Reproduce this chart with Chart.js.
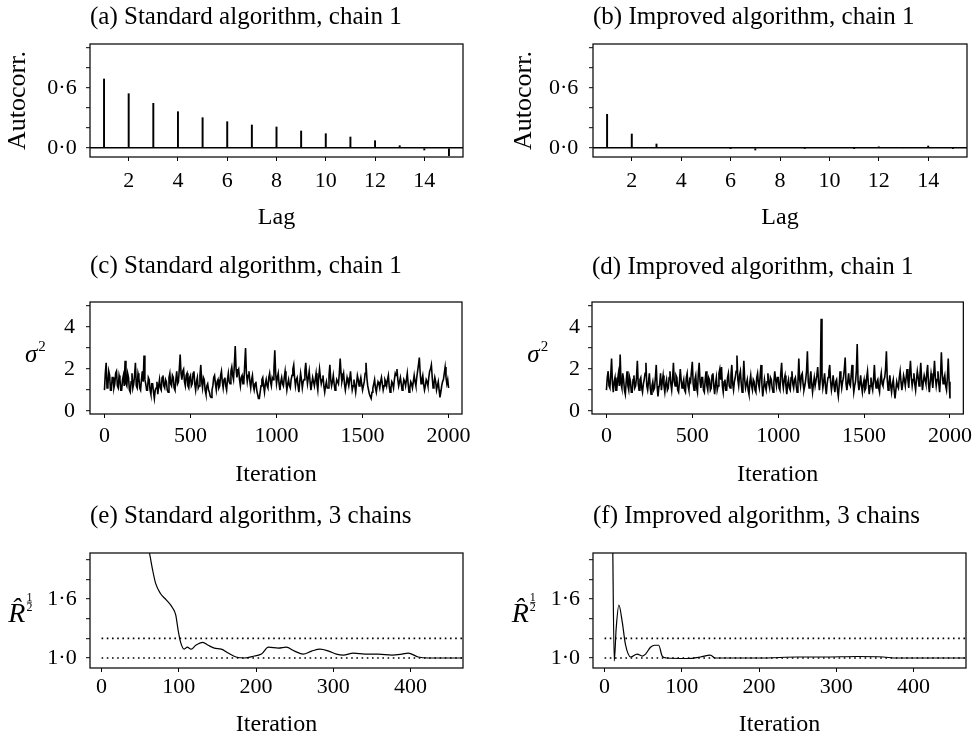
<!DOCTYPE html>
<html><head><meta charset="utf-8">
<script src="https://cdn.jsdelivr.net/npm/chart.js@4.4.1/dist/chart.umd.min.js"></script>
<style>
html,body{margin:0;padding:0;background:#fff;}
body{width:977px;height:739px;position:relative;overflow:hidden;}
canvas{position:absolute;}
</style></head><body>
<canvas id="ca"></canvas><canvas id="cb"></canvas>
<canvas id="cc"></canvas><canvas id="cd"></canvas>
<canvas id="ce"></canvas><canvas id="cf"></canvas>
<script>
// ---------------- DATA ----------------
const LAGS = [1,2,3,4,5,6,7,8,9,10,11,12,13,14,15];
const acfStandard = [0.69,0.543,0.447,0.363,0.303,0.263,0.23,0.21,0.17,0.143,0.11,0.073,0.023,-0.02,-0.077];
const acfImproved = [0.337,0.14,0.04,0.003,0.005,-0.004,-0.02,0.004,-0.005,0.003,-0.003,0.012,0.002,0.02,-0.005];
const lagTicks = [2,4,6,8,10,12,14];
const acfTicks = [0,0.2,0.4,0.6,0.8,1.0];
const acfTickLabels = [0,0.6];

const ITER_STEP = 5;
const sigmaStandard = [
1.0,1.8,2.3,1.1,1.2,1.9,1.7,1.0,1.0,1.6,1.6,1.1,1.3,1.8,1.9,1.2,1.1,1.7,1.5,1.0,
1.0,1.5,1.7,1.2,2.4,1.3,1.2,1.8,1.6,1.0,0.9,1.4,1.8,1.1,1.3,1.7,2.3,1.2,1.1,1.8,
1.6,1.1,1.0,1.5,1.9,1.4,2.65,1.5,1.3,1.0,1.0,1.6,1.5,1.0,0.8,1.3,1.3,0.9,0.6,1.0,
1.1,1.4,0.8,1.2,1.5,1.1,1.0,1.6,1.7,1.2,1.1,1.5,1.4,1.0,0.9,1.6,1.8,1.3,1.2,1.7,
1.6,1.1,1.0,1.5,1.9,1.3,1.4,2.0,2.7,1.8,1.5,1.9,2.0,1.4,1.2,1.7,1.8,1.2,1.1,1.6,
1.7,1.2,1.3,1.8,1.9,1.3,1.0,1.4,1.6,1.1,1.2,1.7,2.2,1.4,1.1,1.6,1.5,1.0,0.8,1.2,
1.3,1.0,0.9,0.7,0.65,1.0,1.2,1.6,1.7,1.3,1.0,1.4,1.5,1.1,1.2,1.7,1.9,1.4,1.1,1.5,
1.6,1.2,1.0,1.5,1.8,1.4,1.3,1.9,2.1,1.7,1.5,2.2,3.1,2.0,1.6,1.9,2.0,1.5,1.2,1.6,
1.7,1.3,1.3,2.2,3.0,1.8,1.4,1.7,1.9,1.4,1.1,1.5,1.7,1.2,1.0,1.3,1.4,1.0,0.8,0.6,
0.6,0.9,1.2,1.5,1.6,1.2,0.9,1.3,1.5,1.2,1.1,1.6,1.8,1.4,1.2,1.6,1.5,2.0,2.9,1.8,
1.3,1.6,1.8,1.3,1.0,1.4,1.6,1.3,1.2,1.6,1.9,1.4,1.0,1.3,1.5,1.2,1.1,1.5,1.7,2.0,
2.2,1.6,1.2,1.5,1.6,1.2,0.9,1.4,1.8,1.5,1.1,1.4,1.5,1.9,2.3,1.7,1.3,1.6,1.9,1.4,
1.0,1.3,1.6,1.4,1.2,1.5,1.8,1.3,1.0,1.6,2.0,1.6,1.3,1.5,1.7,1.2,0.9,1.2,1.4,1.1,
1.1,1.7,2.2,1.5,1.2,1.4,1.7,1.3,1.0,1.2,1.5,1.4,1.3,1.8,2.5,1.8,1.4,1.6,1.8,1.3,
1.0,1.3,1.6,1.4,1.2,1.5,1.9,1.4,1.0,1.2,1.5,1.2,0.9,1.3,1.7,1.5,1.2,1.4,1.6,1.3,
1.0,1.2,1.4,1.8,2.3,1.6,1.2,1.0,0.8,0.7,0.6,0.9,1.1,1.3,1.5,1.1,0.9,1.2,1.4,1.3,
1.1,1.4,1.6,1.3,1.0,1.2,1.5,1.4,1.2,1.5,1.7,1.2,0.9,1.1,1.4,1.3,1.1,1.5,1.8,1.7,
2.0,1.5,1.2,1.4,1.6,1.3,1.0,1.2,1.5,1.4,1.2,1.5,1.8,1.3,0.9,1.1,1.4,1.3,1.1,1.4,
1.7,1.4,1.2,1.6,1.9,2.2,2.55,1.8,1.3,1.5,1.7,1.3,1.0,1.2,1.5,1.4,1.2,1.6,1.9,2.0,
2.2,1.6,1.1,1.3,1.6,1.4,1.0,1.2,1.4,1.0,0.65,0.9,1.2,1.4,1.5,1.8,2.1,1.6,1.3,1.5,
1.1];
const sigmaImproved = [
1.0,1.6,1.9,1.2,1.1,1.7,2.5,1.3,0.9,1.4,1.6,1.0,1.0,1.5,1.8,1.2,2.7,1.3,1.1,1.8,
1.5,1.0,0.8,1.4,1.9,1.2,1.0,1.6,1.4,0.9,0.9,1.5,1.7,1.1,1.2,1.6,2.4,1.3,1.0,1.5,
1.6,1.1,0.9,1.3,1.5,1.8,2.3,1.2,1.0,1.4,1.8,1.1,0.8,1.2,1.4,1.0,1.1,1.6,2.2,1.2,
0.7,1.1,1.3,1.8,1.0,1.4,1.7,1.2,0.9,1.3,1.5,1.0,1.1,1.6,1.9,1.3,1.0,1.5,2.3,1.4,
1.2,1.7,1.6,1.0,0.9,1.4,2.0,1.5,1.1,1.3,1.5,1.0,0.9,1.6,1.8,1.2,1.0,1.5,1.4,1.9,
2.35,1.3,1.0,1.5,1.7,1.1,0.9,1.8,2.3,1.4,1.1,1.6,1.6,1.0,0.9,1.5,1.9,1.2,1.0,1.6,
1.5,1.0,1.1,1.7,1.8,1.2,0.8,1.3,1.6,1.0,1.2,1.8,2.0,1.5,2.1,1.2,0.9,1.4,1.5,1.0,
1.0,1.6,1.8,1.2,1.1,1.7,2.2,1.3,1.0,1.4,1.6,1.9,2.65,1.5,1.2,1.7,1.9,1.3,0.9,1.4,
2.4,1.5,1.1,1.3,1.5,1.0,0.8,1.4,1.7,1.2,1.0,1.5,1.4,1.0,0.9,1.6,1.8,1.3,1.1,1.7,
2.2,1.3,0.7,1.1,1.5,1.2,1.0,1.4,1.8,1.3,1.1,1.6,1.5,1.1,0.9,1.4,1.9,1.5,1.2,1.6,
1.6,1.1,1.0,1.8,2.3,1.4,1.1,1.5,1.7,1.2,0.8,1.3,1.5,1.1,1.0,1.6,1.9,1.3,1.1,1.5,
1.6,1.2,0.9,1.4,2.5,1.5,1.2,1.7,1.8,1.3,1.0,1.2,1.5,1.9,2.85,1.4,1.1,1.5,1.9,1.3,
0.9,1.3,1.6,1.2,1.2,1.7,2.1,1.4,1.0,1.5,4.4,1.6,1.1,1.4,1.8,1.2,0.8,1.3,1.6,1.9,
2.2,1.4,1.0,1.3,1.7,1.2,0.9,1.4,1.5,1.0,0.7,1.2,1.9,1.5,1.1,1.4,1.6,2.0,2.55,1.3,
1.0,1.4,1.8,1.3,1.2,1.7,2.2,1.5,0.9,1.2,1.4,1.9,3.2,1.4,1.0,1.3,1.7,1.2,0.9,1.3,
1.5,1.0,1.1,1.6,1.9,1.3,0.8,1.2,1.6,1.2,1.0,1.5,2.2,1.4,1.1,1.4,1.5,1.1,0.9,1.5,
1.8,1.3,1.2,1.5,1.6,2.0,2.85,1.5,1.0,1.3,1.7,1.2,0.9,1.3,1.5,1.0,0.6,1.0,1.4,1.2,
1.1,1.6,1.9,1.4,1.0,1.3,1.7,1.5,1.2,1.6,2.0,1.5,1.1,1.8,2.4,1.6,1.2,1.5,1.8,1.3,
1.0,1.5,1.9,1.6,1.2,1.7,2.3,1.5,1.0,1.4,1.7,1.5,1.3,1.8,2.2,1.3,0.9,1.4,1.8,1.5,
1.1,1.7,2.4,1.6,1.2,1.5,1.9,1.3,0.9,1.6,2.8,1.8,1.3,1.5,1.7,1.2,1.0,1.6,2.5,1.4,
0.6];
const iterTicks = [0,500,1000,1500,2000];
const sigmaTicks = [0,1,2,3,4,5];
const sigmaTickLabels = [0,2,4];

const rhatStdIter = [50,62,66,70,76,84,92,96,99,102,107,111,116,122,131,138,146,155,164,174,185,198,207,216,229,239,250,261,272,283,294,304,313,326,341,358,376,389,397,410,423,467];
const rhatStdVal  = [2.45,2.07,1.90,1.76,1.66,1.59,1.51,1.44,1.29,1.17,1.09,1.11,1.09,1.13,1.16,1.13,1.10,1.09,1.05,1.01,1.00,1.02,1.04,1.11,1.10,1.11,1.07,1.04,1.07,1.09,1.07,1.04,1.03,1.05,1.04,1.04,1.03,1.04,1.05,1.01,1.00,1.00];
const rhatImpIter = [8,10,12.5,15,18.5,23,27,34,42,49,53,59.5,65,70,74.6,80,107,124,137,143,175,205,249,284,327,361,378,467];
const rhatImpVal  = [3.0,2.5,0.97,1.3,1.54,1.36,1.14,1.01,1.04,1.02,1.04,1.11,1.13,1.13,1.02,1.00,0.995,1.01,1.03,1.00,1.00,1.00,1.01,1.01,1.015,1.01,1.0,1.0];
const REF_LEVELS = [1.0, 1.2];
const rIterTicks = [0,100,200,300,400];
const rhatTicks = [1.0,1.2,1.4,1.6,1.8,2.0];
const rhatTickLabels = [1.0,1.6];

// ---------------- RENDERING ----------------
const FONT = "'Liberation Serif', 'Times New Roman', serif";
Chart.defaults.font.family = FONT;
Chart.defaults.color = '#000';

const dotFmt = v => v.toFixed(1).replace('.', '\u00B7');
const isIn = (arr, v) => arr.some(a => Math.abs(a - v) < 1e-9);

const framePlugin = {
  id: 'frame',
  afterDraw(chart) {
    const a = chart.chartArea, ctx = chart.ctx;
    ctx.save();
    ctx.strokeStyle = '#111'; ctx.lineWidth = 1.3;
    ctx.strokeRect(a.left, a.top, a.right - a.left, a.bottom - a.top);
    ctx.restore();
  }
};
const sideLabelPlugin = {
  id: 'sideLabel',
  afterDraw(chart, args, o) {
    if (!o || !o.kind) return;
    const ctx = chart.ctx;
    ctx.save();
    ctx.fillStyle = '#000'; ctx.textBaseline = 'alphabetic'; ctx.textAlign = 'left';
    if (o.kind === 'sigma') {
      ctx.font = "italic 25px " + FONT;
      ctx.fillText('\u03C3', o.x, o.y);
      const w = ctx.measureText('\u03C3').width;
      ctx.font = "15px " + FONT;
      ctx.fillText('2', o.x + w + 1, o.y - 11);
    } else {
      ctx.font = "italic 28px " + FONT;
      ctx.fillText('R\u0302', o.x, o.y);
      const w = ctx.measureText('R').width;
      ctx.font = "12px " + FONT;
      ctx.textAlign = 'center';
      const fx = o.x + w + 4;
      ctx.fillText('1', fx, o.y - 21);
      ctx.fillText('2', fx, o.y - 11);
      ctx.fillRect(fx - 2.5, o.y - 20, 5, 0.8);
    }
    ctx.restore();
  }
};

const TF = 25, TLH = 1.2, TICKF = 22;
function makeChart(id, g, s) {
  const cv = document.getElementById(id);
  cv.width = g.cw; cv.height = g.ch;
  cv.style.left = g.cl + 'px'; cv.style.top = g.ct + 'px';
  const titlePadTop = (g.titleBase - 0.3375 * TF) - g.ct - TF * TLH / 2;
  const titlePadBottom = (g.t - g.ct) - titlePadTop - TF * TLH;
  const XF = 24;
  const xTitlePadBottom = Math.max(0, (g.ct + g.ch) - (g.xTitleBase - 0.3375 * XF) - XF / 2);
  const xTl = g.xDigitTop - g.b - (TICKF * 1.2 / 2 + 0.3375 * TICKF - 0.676 * TICKF);
  const yTl = g.l - g.yLabelRight;
  const yTitle = s.yTitle ? {
    display: true, text: s.yTitle, font: {size: 26, lineHeight: 1},
    padding: {top: (g.yTitleBase - g.cl - 0.3375 * 26) - 13, bottom: 0}
  } : {display: false};
  return new Chart(cv, {
    type: s.type,
    data: {datasets: s.datasets},
    options: {
      responsive: false, animation: false, events: [],
      layout: {padding: {left: 0, top: 0, bottom: 0, right: (g.cl + g.cw) - g.r}},
      plugins: {
        legend: {display: false}, tooltip: {enabled: false},
        title: {display: true, text: s.title, align: 'start', fullSize: false,
          font: {size: TF, lineHeight: TLH, weight: 'normal'}, color: '#000',
          padding: {top: titlePadTop, bottom: titlePadBottom}},
        sideLabel: s.side || {}
      },
      scales: {
        x: {
          type: 'linear', min: s.xMin, max: s.xMax, offset: false,
          afterBuildTicks: sc => { sc.ticks = s.xTicks.map(v => ({value: v})); },
          afterFit: sc => { sc.height = g.ct + g.ch - g.b; },
          ticks: {autoSkip: false, maxRotation: 0, padding: xTl - 4, font: {size: TICKF}, callback: v => String(v)},
          grid: {drawOnChartArea: false, offset: false, tickLength: 4, tickColor: '#000', tickWidth: 1},
          border: {display: false},
          title: {display: true, text: s.xTitle, font: {size: XF, lineHeight: 1}, padding: {top: 0, bottom: xTitlePadBottom}}
        },
        y: {
          type: 'linear', min: s.yMin, max: s.yMax,
          afterBuildTicks: sc => { sc.ticks = s.yTicks.map(v => ({value: v})); },
          afterFit: sc => { sc.width = g.l - g.cl; },
          ticks: {autoSkip: false, padding: yTl - 4, font: {size: TICKF},
            callback: v => isIn(s.yLabels, v) ? s.yFmt(v) : ''},
          grid: {
            drawOnChartArea: !!s.zeroLine, tickLength: 4, tickColor: '#000', tickWidth: 1,
            color: c => (s.zeroLine && c.tick && Math.abs(c.tick.value) < 1e-9) ? '#000' : 'rgba(0,0,0,0)',
            lineWidth: 1.4
          },
          border: {display: false},
          title: yTitle
        }
      }
    },
    plugins: [framePlugin, sideLabelPlugin]
  });
}

function acfSpec(title, vals) {
  return {
    type: 'bar', title, xTitle: 'Lag', yTitle: 'Autocorr.',
    xMin: 0.43, xMax: 15.57, yMin: -0.09, yMax: 1.04,
    xTicks: lagTicks, yTicks: acfTicks, yLabels: acfTickLabels, yFmt: dotFmt, zeroLine: true,
    datasets: [{data: LAGS.map((l, i) => ({x: l, y: vals[i]})), backgroundColor: '#000',
      borderWidth: 0, barThickness: 1.3}]
  };
}
function traceSpec(title, vals, side) {
  return {
    type: 'line', title, xTitle: 'Iteration', side,
    xMin: -84, xMax: 2078, yMin: -0.14, yMax: 5.2,
    xTicks: iterTicks, yTicks: sigmaTicks, yLabels: sigmaTickLabels, yFmt: v => String(v),
    datasets: [{data: vals.map((v, i) => ({x: i * ITER_STEP, y: v})), borderColor: '#000',
      borderWidth: 1.6, pointRadius: 0, tension: 0}]
  };
}
function rhatSpec(title, it, vals, side) {
  const X0 = -15, X1 = 468;
  const refs = REF_LEVELS.map(lv => ({data: [{x: 0, y: lv}, {x: X1, y: lv}], borderColor: '#000',
    borderWidth: 1.6, borderDash: [1.6, 3.6], pointRadius: 0}));
  return {
    type: 'line', title, xTitle: 'Iteration', side,
    xMin: X0, xMax: X1, yMin: 0.898, yMax: 2.07,
    xTicks: rIterTicks, yTicks: rhatTicks, yLabels: rhatTickLabels, yFmt: dotFmt,
    datasets: refs.concat([{data: it.map((x, i) => ({x, y: vals[i]})), borderColor: '#000',
      borderWidth: 1.2, pointRadius: 0, cubicInterpolationMode: 'monotone'}])
  };
}

const G = {
  a: {cl: 0, ct: 0, cw: 480, ch: 245, l: 90, t: 44, r: 463, b: 157, titleBase: 25.7, xTitleBase: 226, xDigitTop: 173.3, yLabelRight: 76.7, yTitleBase: 26.7},
  b: {cl: 490, ct: 0, cw: 487, ch: 245, l: 593, t: 44, r: 967, b: 157, titleBase: 25.7, xTitleBase: 226, xDigitTop: 173.3, yLabelRight: 578.3, yTitleBase: 533.3},
  c: {cl: 0, ct: 245, cw: 480, ch: 245, l: 90, t: 302, r: 462, b: 414, titleBase: 275, xTitleBase: 483.3, xDigitTop: 428.3, yLabelRight: 75},
  d: {cl: 490, ct: 245, cw: 487, ch: 245, l: 592, t: 302, r: 966, b: 414, titleBase: 275.5, xTitleBase: 483.3, xDigitTop: 428.3, yLabelRight: 580},
  e: {cl: 0, ct: 490, cw: 480, ch: 249, l: 90, t: 553, r: 463, b: 668, titleBase: 525, xTitleBase: 733.3, xDigitTop: 680, yLabelRight: 76.7},
  f: {cl: 490, ct: 490, cw: 487, ch: 249, l: 593, t: 553, r: 966, b: 668, titleBase: 524.5, xTitleBase: 733.3, xDigitTop: 680, yLabelRight: 580}
};

makeChart('ca', G.a, acfSpec('(a) Standard algorithm, chain 1', acfStandard));
makeChart('cb', G.b, acfSpec('(b) Improved algorithm, chain 1', acfImproved));
makeChart('cc', G.c, traceSpec('(c) Standard algorithm, chain 1', sigmaStandard, {kind: 'sigma', x: 25, y: 116.7}));
makeChart('cd', G.d, traceSpec('(d) Improved algorithm, chain 1', sigmaImproved, {kind: 'sigma', x: 37.3, y: 116.7}));
makeChart('ce', G.e, rhatSpec('(e) Standard algorithm, 3 chains', rhatStdIter, rhatStdVal, {kind: 'rhat', x: 8.3, y: 131.7}));
makeChart('cf', G.f, rhatSpec('(f) Improved algorithm, 3 chains', rhatImpIter, rhatImpVal, {kind: 'rhat', x: 21.7, y: 132}));
</script>
</body></html>
